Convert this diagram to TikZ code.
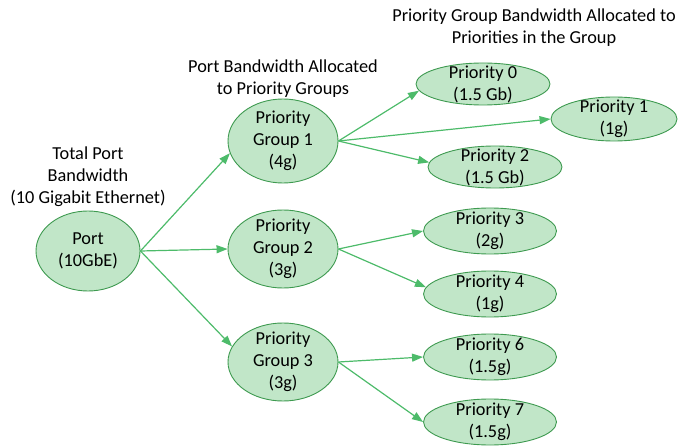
\documentclass[tikz,border=0pt]{standalone}
\usepackage{fontspec}
\setmainfont{Carlito}
\usetikzlibrary{shapes.geometric,arrows.meta}
\definecolor{nfill}{HTML}{C1E6C8}
\definecolor{ndraw}{HTML}{3E9A50}
\definecolor{arr}{HTML}{4DBB6A}
\tikzset{
  bub/.style={ellipse, draw=ndraw, fill=nfill, line width=0.9pt, inner sep=0pt},
  grp/.style={bub, minimum width=110pt, minimum height=80pt},
  pri/.style={bub, minimum width=134pt, minimum height=44pt},
  lab/.style={align=center, font=\fontsize{18.3}{22}\selectfont, inner sep=0pt},
  con/.style={draw=arr, line width=1.2pt, -{Triangle[length=11pt,width=8pt]}}
}
\begin{document}
\begin{tikzpicture}[x=1pt,y=1pt]
\useasboundingbox (0,0) rectangle (680,445);
% headings
\node[lab] (h1) at (88,268) {Total Port\\Bandwidth\\(10 Gigabit Ethernet)};
\node[lab] (h2) at (283,366) {Port Bandwidth Allocated\\to Priority Groups};
\node[lab] (h3) at (534,417) {Priority Group Bandwidth Allocated to\\Priorities in the Group};
% nodes
\node[bub, minimum width=104pt, minimum height=80pt, label={[lab]center:Port\\(10GbE)}] (port) at (88,194) {};
\node[grp, minimum height=84pt, label={[lab]center:Priority\\Group 1\\(4g)}] (g1) at (283,304) {};
\node[grp, minimum height=78pt, label={[lab]center:Priority\\Group 2\\(3g)}] (g2) at (283,196) {};
\node[grp, minimum height=78pt, label={[lab]center:Priority\\Group 3\\(3g)}] (g3) at (283,83) {};
\node[pri, minimum height=42pt, label={[lab]center:Priority 0\\(1.5 Gb)}] (p0) at (483,361) {};
\node[pri, minimum width=126pt, label={[lab]center:Priority 1\\(1g)}] (p1) at (614,326) {};
\node[pri, minimum height=42pt, label={[lab]center:Priority 2\\(1.5 Gb)}] (p2) at (495,278) {};
\node[pri, minimum width=133pt, minimum height=46pt, label={[lab]center:Priority 3\\(2g)}] (p3) at (490,214) {};
\node[pri, minimum width=133pt, minimum height=46pt, label={[lab]center:Priority 4\\(1g)}] (p4) at (490,151) {};
\node[pri, minimum width=133pt, minimum height=46pt, label={[lab]center:Priority 6\\(1.5g)}] (p6) at (490,88) {};
\node[pri, minimum width=133pt, minimum height=46pt, label={[lab]center:Priority 7\\(1.5g)}] (p7) at (490,23) {};
% connectors
\draw[con] (port.east) -- (g1.193);
\draw[con] (port.east) -- (g2.west);
\draw[con] (port.east) -- (g3.163);
\draw[con] (g1.east) -- (p0.186);
\draw[con] (g1.east) -- (p1.west);
\draw[con] (g1.east) -- (p2.176);
\draw[con] (g2.east) -- (p3.west);
\draw[con] (g2.east) -- (p4.174);
\draw[con] (g3.east) -- (p6.west);
\draw[con] (g3.east) -- (p7.west);
\end{tikzpicture}
\end{document}
